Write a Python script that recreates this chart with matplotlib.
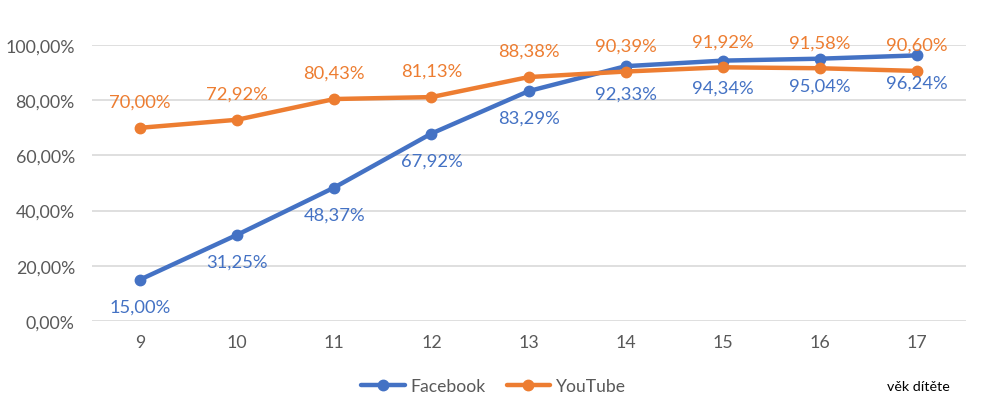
import matplotlib
matplotlib.use("Agg")
import matplotlib.pyplot as plt
from matplotlib.ticker import FuncFormatter

plt.rcParams['font.family'] = ['Lato', 'DejaVu Sans']

ages = ["9", "10", "11", "12", "13", "14", "15", "16", "17"]
facebook = [15.00, 31.25, 48.37, 67.92, 83.29, 92.33, 94.34, 95.04, 96.24]
youtube = [70.00, 72.92, 80.43, 81.13, 88.38, 90.39, 91.92, 91.58, 90.60]
yticks = [0, 20, 40, 60, 80, 100]

fb_color = "#4472C4"
yt_color = "#ED7D31"

fig = plt.figure(figsize=(9.81, 4.10), dpi=100)
ax = fig.add_axes([0.0933, 0.2146, 0.891, 0.6732])

x = list(range(len(ages)))
ax.plot(x, facebook, color=fb_color, lw=3.2, marker='o', ms=7.5, label="Facebook", solid_capstyle='round', zorder=3)
ax.plot(x, youtube, color=yt_color, lw=3.2, marker='o', ms=7.5, label="YouTube", solid_capstyle='round', zorder=3)

def fmt(v):
    return f"{v:.2f}".replace(".", ",") + "%"

for xi, v in zip(x, facebook):
    ax.annotate(fmt(v), (xi, v), xytext=(0, -27), textcoords='offset pixels',
                ha='center', va='center', color=fb_color, fontsize=13.2)
for xi, v in zip(x, youtube):
    ax.annotate(fmt(v), (xi, v), xytext=(0, 26), textcoords='offset pixels',
                ha='center', va='center', color=yt_color, fontsize=13.2)

ax.set_xlim(-0.5, len(ages) - 0.5)
ax.set_ylim(0, 100)
ax.set_yticks(yticks)
ax.yaxis.set_major_formatter(FuncFormatter(lambda v, p: fmt(v)))
ax.set_xticks(x)
ax.set_xticklabels(ages)
ax.tick_params(axis='both', length=0, colors="#595959", labelsize=12.8)
ax.tick_params(axis='y', pad=12)
ax.tick_params(axis='x', pad=9)
ax.grid(axis='y', color="#D9D9D9", lw=1.2)
ax.set_axisbelow(True)
for s in ax.spines.values():
    s.set_visible(False)

leg = fig.legend(loc='center', bbox_to_anchor=(0.503, 1 - 387/410), ncol=2, frameon=False,
                 fontsize=12.6, handlelength=2.5, columnspacing=1.2, handletextpad=0.3)
for t in leg.get_texts():
    t.set_color("#595959")

fig.text(918/981, 1 - 387/410, "věk dítěte", ha='center', va='center', fontsize=10.3, color="black")

fig.savefig("out.png", dpi=100)
